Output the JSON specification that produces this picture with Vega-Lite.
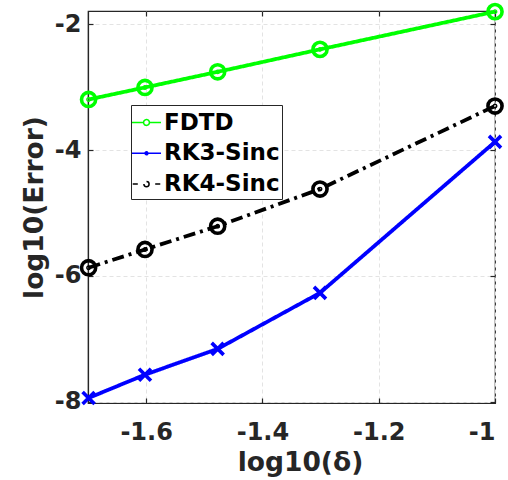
{
  "$schema": "https://vega.github.io/schema/vega-lite/v6.json",
  "width": 407,
  "height": 392,
  "autosize": "none",
  "padding": {"left": 88, "top": 11, "right": 13, "bottom": 77},
  "background": "white",
  "config": {
    "view": {"stroke": "#262626", "strokeWidth": 1.2},
    "font": "DejaVu Sans",
    "axis": {
      "labelFont": "DejaVu Sans",
      "labelFontWeight": "bold",
      "labelFontSize": 24,
      "labelColor": "#262626",
      "titleFont": "DejaVu Sans",
      "titleFontWeight": "bold",
      "titleFontSize": 26.5,
      "titleColor": "#262626",
      "domainColor": "#262626",
      "domainWidth": 1.2,
      "tickColor": "#262626",
      "tickWidth": 1.2,
      "gridColor": "#e3e3e3",
      "gridDash": [4, 3],
      "gridWidth": 1
    }
  },
  "data": {
    "values": [
      {"x": -1.699, "y": -3.196, "series": "FDTD"},
      {"x": -1.602, "y": -3.005, "series": "FDTD"},
      {"x": -1.477, "y": -2.757, "series": "FDTD"},
      {"x": -1.301, "y": -2.40, "series": "FDTD"},
      {"x": -1.0, "y": -1.80, "series": "FDTD"},
      {"x": -1.699, "y": -7.94, "series": "RK3-Sinc"},
      {"x": -1.602, "y": -7.57, "series": "RK3-Sinc"},
      {"x": -1.477, "y": -7.16, "series": "RK3-Sinc"},
      {"x": -1.301, "y": -6.27, "series": "RK3-Sinc"},
      {"x": -1.0, "y": -3.87, "series": "RK3-Sinc"},
      {"x": -1.699, "y": -5.87, "series": "RK4-Sinc"},
      {"x": -1.602, "y": -5.58, "series": "RK4-Sinc"},
      {"x": -1.477, "y": -5.21, "series": "RK4-Sinc"},
      {"x": -1.301, "y": -4.62, "series": "RK4-Sinc"},
      {"x": -1.0, "y": -3.30, "series": "RK4-Sinc"}
    ]
  },
  "layer": [
    {
      "mark": {"type": "line", "strokeWidth": 3.8, "clip": false},
      "encoding": {
        "x": {
          "field": "x", "type": "quantitative",
          "scale": {"domain": [-1.7, -1.0], "nice": false, "zero": false},
          "axis": {"orient": "bottom", "values": [-1.6, -1.4, -1.2, -1.0], "format": "~g", "labelExpr": "replace(datum.label, '\u2212', '-')", "grid": true, "tickSize": -5, "labelPadding": 22, "title": "log10(δ)", "titlePadding": 5, "titleX": 212, "titleAlign": "center"}
        },
        "y": {
          "field": "y", "type": "quantitative",
          "scale": {"domain": [-8.02, -1.79], "nice": false, "zero": false},
          "axis": {"orient": "left", "values": [-8, -6, -4, -2], "format": "~g", "labelExpr": "replace(datum.label, '\u2212', '-')", "grid": true, "tickSize": -5, "labelPadding": 12, "title": "log10(Error)", "titlePadding": 6}
        },
        "color": {
          "field": "series", "type": "nominal",
          "scale": {"domain": ["FDTD", "RK3-Sinc", "RK4-Sinc"], "range": ["#00ff00", "#0000ff", "#000000"]},
          "legend": {
            "title": null,
            "orient": "none",
            "legendX": 43,
            "legendY": 94,
            "padding": 2,
            "fillColor": "white",
            "strokeColor": "#262626",
            "labelFont": "DejaVu Sans",
            "labelFontWeight": "bold",
            "labelFontSize": 23,
            "labelColor": "#000000",
            "labelOffset": 2,
            "symbolSize": 841,
            "rowPadding": 2.8,
            "symbolOffset": -2,
            "encode": {
              "symbols": {
                "update": {
                  "shape": {"signal": "datum.value === 'FDTD' ? 'M-1,0L-0.2,0M0.2,0L1,0M-0.2,0A0.2,0.2,0,1,0,0.2,0A0.2,0.2,0,1,0,-0.2,0' : datum.value === 'RK3-Sinc' ? 'M-1,0L1,0M-0.1,0A0.1,0.1,0,1,0,0.1,0A0.1,0.1,0,1,0,-0.1,0' : 'M-0.95,0L-0.6,0M0.6,0L0.95,0M-0.18,0A0.18,0.18,0,1,0,0.18,0A0.18,0.18,0,1,0,-0.18,0'"},
                  "fill": {"value": "transparent"},
                  "strokeWidth": {"value": 1.5},
                  "strokeDash": {"value": []},
                  "opacity": {"value": 1},
                  "size": {"value": 841}
                }
              }
            }
          }
        },
        "strokeDash": {
          "field": "series", "type": "nominal",
          "scale": {"domain": ["FDTD", "RK3-Sinc", "RK4-Sinc"], "range": [[1, 0], [1, 0], [12, 5, 3, 5]]},
          "legend": null
        }
      }
    },
    {
      "transform": [{"filter": "datum.series !== 'RK3-Sinc'"}],
      "mark": {"type": "point", "filled": false, "size": 200, "strokeWidth": 3.6, "opacity": 1, "clip": false},
      "encoding": {
        "x": {"field": "x", "type": "quantitative", "axis": null},
        "y": {"field": "y", "type": "quantitative", "axis": null},
        "color": {"field": "series", "type": "nominal"}
      }
    },
    {
      "transform": [{"filter": "datum.series === 'RK3-Sinc'"}],
      "mark": {"type": "point", "shape": "M-1,-1L1,1M-1,1L1,-1", "filled": false, "size": 144, "strokeWidth": 3.6, "opacity": 1, "clip": false},
      "encoding": {
        "x": {"field": "x", "type": "quantitative", "axis": null},
        "y": {"field": "y", "type": "quantitative", "axis": null},
        "color": {"field": "series", "type": "nominal"}
      }
    },
    {
      "transform": [{"filter": "datum.series !== 'RK3-Sinc'"}],
      "mark": {"type": "point", "filled": false, "size": 12, "strokeWidth": 1.4, "opacity": 1, "clip": false},
      "encoding": {
        "x": {"field": "x", "type": "quantitative", "axis": {"orient": "top", "values": [-1.6, -1.4, -1.2, -1.0], "labels": false, "domain": false, "grid": false, "tickSize": -5, "title": null}},
        "y": {"field": "y", "type": "quantitative", "axis": {"orient": "right", "values": [-8, -6, -4, -2], "labels": false, "domain": false, "grid": false, "tickSize": -5, "title": null}},
        "color": {"field": "series", "type": "nominal"}
      }
    }
  ],
  "resolve": {"axis": {"x": "independent", "y": "independent"}}
}
